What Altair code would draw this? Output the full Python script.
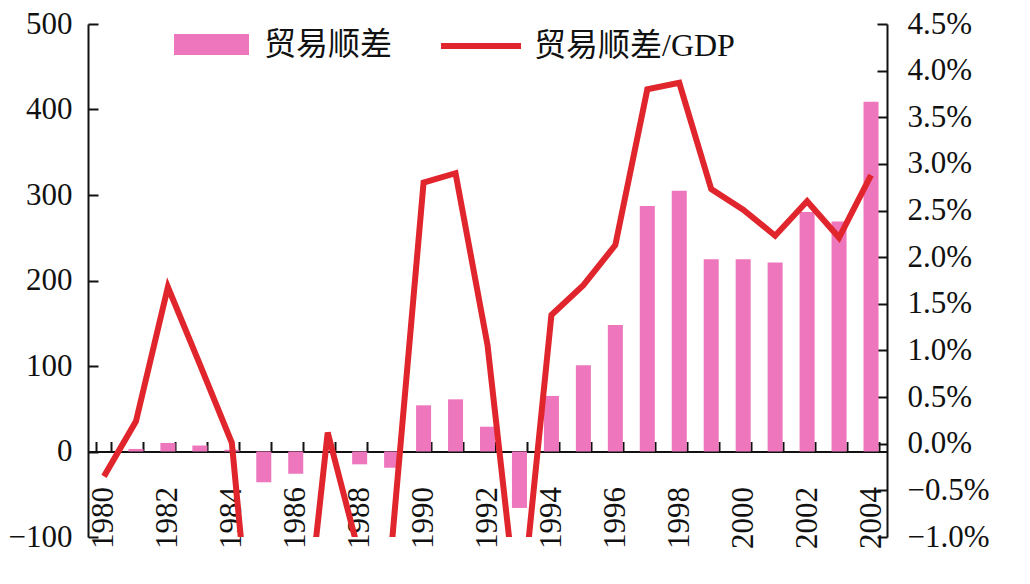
import altair as alt
import pandas as pd

years = list(range(1980, 2005))
surplus = [0, 3, 10, 7, 2, -36, -26, 0, -15, -19, 54, 61, 29, -66, 65, 101, 148,
           287, 305, 225, 225, 221, 280, 269, 409]
ratio = [-0.35, 0.24, 1.68, 0.85, 0.01, -3.6, -3.0, 0.12, -1.2, -1.1, 2.80, 2.90,
         1.06, -2.0, 1.38, 1.70, 2.13, 3.80, 3.87, 2.73, 2.51, 2.23, 2.60, 2.21, 2.88]
left_ticks = [-100, 0, 100, 200, 300, 400, 500]
right_ticks = [-1.0, -0.5, 0.0, 0.5, 1.0, 1.5, 2.0, 2.5, 3.0, 3.5, 4.0, 4.5]
bar_name = "贸易顺差"
line_name = "贸易顺差/GDP"

PINK = "#EE76BD"
RED = "#E0262C"
NUM_FONT = "Liberation Serif"
TXT_FONT = "Liberation Serif, Noto Sans CJK SC"

df = pd.DataFrame({"year": years, "surplus": surplus, "ratio": ratio,
                   "s1": bar_name, "s2": line_name})

W, H = 799, 513
zero_y = H * 500 / 600  # pixel position of 0 on left axis

x_enc = alt.X("year:O",
              scale=alt.Scale(paddingInner=0.53, paddingOuter=0.265),
              axis=alt.Axis(orient="bottom", offset=-(H - zero_y), title=None,
                            tickBand="extent", tickSize=alt.ExprRef(expr="-10"),
                            tickWidth=2, tickColor="#111", domainColor="#111",
                            domainWidth=2, labelAngle=270, labelPadding=45,
                            labelExpr="datum.value % 2 == 0 ? datum.label : ''",
                            labelFont=NUM_FONT, labelFontSize=31, labelColor="#111",
                            labelBaseline="middle", labelAlign="right"))

bars = alt.Chart(df).mark_bar().encode(
    x=x_enc,
    y=alt.Y("surplus:Q",
            scale=alt.Scale(domain=[-100, 500], nice=False, zero=False),
            axis=alt.Axis(orient="left", values=left_ticks, title=None, grid=False,
                          tickSize=alt.ExprRef(expr="-10"), tickWidth=2, tickColor="#111",
                          domainColor="#111", domainWidth=2, labelPadding=26,
                          labelFont=NUM_FONT, labelFontSize=31, labelColor="#111",
                          format="d")),
    color=alt.Color("s1:N", scale=alt.Scale(domain=[bar_name], range=[PINK]),
                    legend=alt.Legend(orient="none", legendX=86, legendY=-17, title=None,
                                      symbolType="M-1,-0.28H1V0.28H-1Z", symbolSize=5625,
                                      symbolStrokeWidth=0, symbolOpacity=1,
                                      labelFont=TXT_FONT, labelFontSize=32,
                                      labelColor="#111", labelOffset=15, padding=0,
                                      labelLimit=400)),
)

line = alt.Chart(df).mark_line(clip=True, strokeWidth=6, strokeJoin="miter").encode(
    x=alt.X("year:O"),
    y=alt.Y("ratio:Q",
            scale=alt.Scale(domain=[-1.0, 4.5], nice=False, zero=False),
            axis=alt.Axis(orient="right", values=right_ticks, title=None, grid=False,
                          tickSize=alt.ExprRef(expr="-10"), tickWidth=2, tickColor="#111",
                          domainColor="#111", domainWidth=2, labelPadding=30,
                          labelFont=NUM_FONT, labelFontSize=31, labelColor="#111",
                          labelExpr="format(datum.value, '.1f') + '%'")),
    stroke=alt.Stroke("s2:N", scale=alt.Scale(domain=[line_name], range=[RED]),
                      legend=alt.Legend(orient="none", legendX=350, legendY=-21, title=None,
                                        symbolType="stroke", symbolSize=6400,
                                        symbolStrokeWidth=6, labelFont=TXT_FONT,
                                        labelFontSize=32, labelColor="#111",
                                        labelOffset=10, padding=0, labelLimit=400)),
)

chart = alt.layer(bars, line).resolve_scale(y="independent").properties(
    width=W, height=H,
    autosize=alt.AutoSizeParams(type="none"),
    padding={"left": 88, "top": 24, "right": 1030 - 88 - W, "bottom": 584 - 24 - H},
    background="white",
).configure_view(strokeWidth=0)

chart.save("out.html", embed_options={"renderer": "svg", "actions": False})
